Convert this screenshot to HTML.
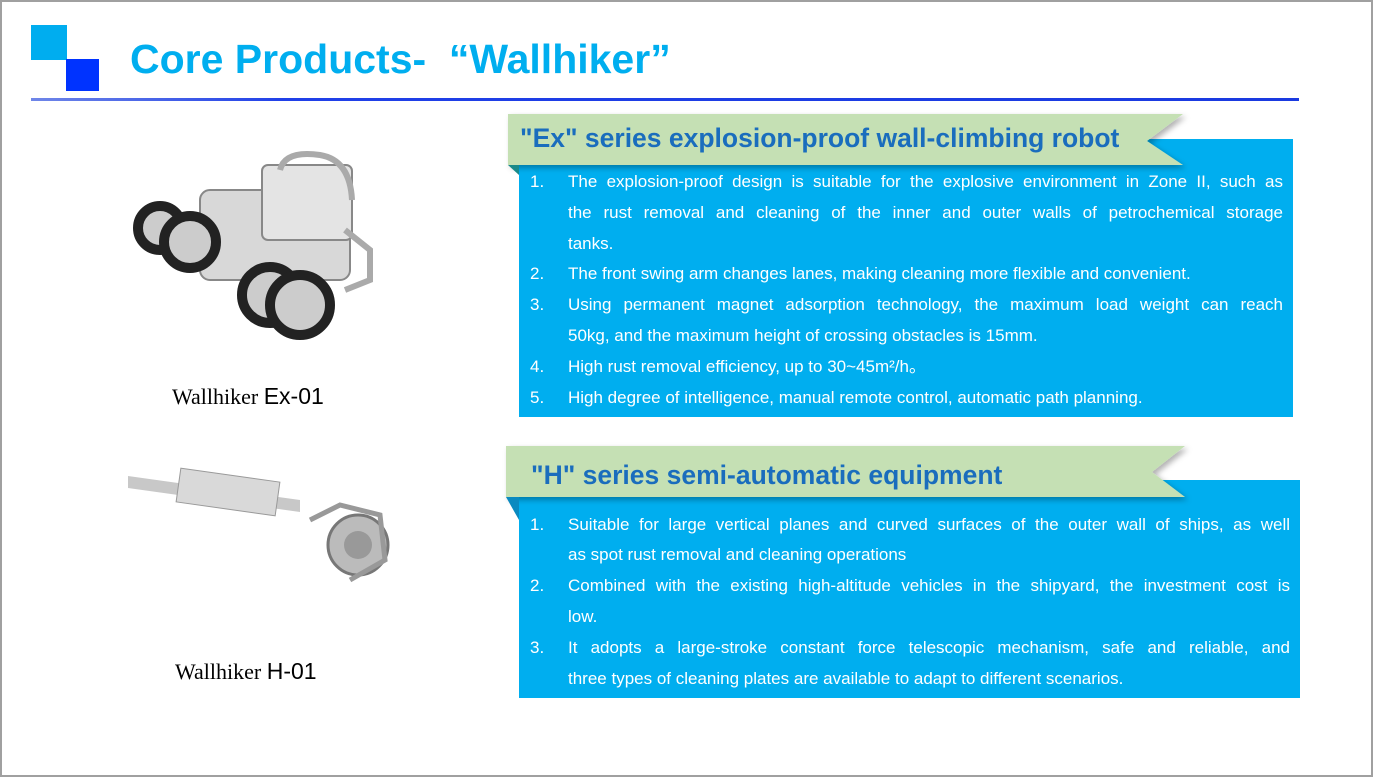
<!DOCTYPE html>
<html><head><meta charset="utf-8"><style>
body{margin:0;width:1373px;height:777px;background:#fff;position:relative;overflow:hidden;font-family:"Liberation Sans",sans-serif}
.frame{position:absolute;left:0;top:0;width:1369px;height:773px;border:2px solid #a0a0a0}
.abs{position:absolute}
.ln{position:absolute;color:#fff;font-size:17px;line-height:20px;height:20px;white-space:nowrap}
.j{text-align:justify;text-align-last:justify;white-space:normal}
.cap{position:absolute;font-family:"Liberation Serif",serif;font-size:22px;color:#000}
.cap span{font-family:"Liberation Sans",sans-serif;font-size:23px}
</style></head><body>
<div class="frame"></div>
<div class="abs" style="left:31px;top:25px;width:36px;height:35px;background:#00adef"></div>
<div class="abs" style="left:66px;top:59px;width:33px;height:32px;background:#0033ff"></div>
<div class="abs" style="left:130px;top:36px;font-size:41px;font-weight:bold;color:#00aeef">Core Products-&nbsp; “Wallhiker”</div>
<div class="abs" style="left:31px;top:98px;width:1268px;height:3px;background:linear-gradient(90deg,#6f86e8,#2040e8 20%,#1a3ae0)"></div>

<svg class="abs" style="left:0;top:0" width="1373" height="777">
<defs><filter id="s" x="-5%" y="-20%" width="110%" height="150%"><feDropShadow dx="3" dy="3" stdDeviation="3" flood-opacity="0.3"/></filter></defs>
<rect x="519" y="139" width="774" height="278" fill="#00aeef"/>
<polygon points="508,114 1183,114 1147,141 1183,165 508,165" fill="#c5e0b4" filter="url(#s)"/>
<polygon points="508,165 519,165 519,175" fill="#1a8a8a"/>
<rect x="519" y="480" width="781" height="218" fill="#00aeef"/>
<polygon points="506,446 1185,446 1152,472 1185,497 506,497" fill="#c5e0b4" filter="url(#s)"/>
<polygon points="506,497 519,497 519,520" fill="#0a8ac0"/>
<g fill="#cfcfcf" stroke="#888" stroke-width="2">
<rect x="200" y="190" width="150" height="90" rx="10" fill="#d8d8d8"/>
<rect x="262" y="165" width="90" height="75" rx="6" fill="#e4e4e4"/>
<path d="M280 170 Q285 150 320 155 Q350 160 352 200" fill="none" stroke="#aaa" stroke-width="6"/>
<path d="M345 230 L370 250 L370 280 L345 290" fill="none" stroke="#aaa" stroke-width="6"/>
</g>
<g stroke="#222" stroke-width="10" fill="#ccc">
<circle cx="160" cy="228" r="22"/><circle cx="190" cy="242" r="26"/>
<circle cx="270" cy="295" r="28"/><circle cx="300" cy="305" r="30"/>
</g>
<polygon points="128,476 300,500 300,512 128,488" fill="#c8c8c8"/>
<rect x="178" y="475" width="100" height="34" fill="#d9d9d9" stroke="#999" transform="rotate(8 228 492)"/>
<circle cx="358" cy="545" r="30" fill="#bbb" stroke="#777" stroke-width="3"/>
<circle cx="358" cy="545" r="14" fill="#999"/>
<path d="M310 520 L340 505 L380 515 L385 560 L350 580" fill="none" stroke="#999" stroke-width="5"/>
</svg>

<div class="cap" style="left:172px;top:383px">Wallhiker <span>Ex-01</span></div>
<div class="cap" style="left:175px;top:658px">Wallhiker <span>H-01</span></div>

<div class="abs" style="left:520px;top:123px;font-size:26.5px;font-weight:bold;color:#1a6dbd">"Ex" series explosion-proof wall-climbing robot</div>
<div class="abs" style="left:531px;top:460px;font-size:26.5px;font-weight:bold;color:#1a6dbd">"H" series semi-automatic equipment</div>

<div class="ln" style="left:530px;top:172px">1.</div>
<div class="ln j" style="left:568px;top:172px;width:715px">The explosion-proof design is suitable for the explosive environment in Zone II, such as</div>
<div class="ln j" style="left:568px;top:203px;width:715px">the rust removal and cleaning of the inner and outer walls of petrochemical storage</div>
<div class="ln" style="left:568px;top:234px">tanks.</div>
<div class="ln" style="left:530px;top:264px">2.</div>
<div class="ln" style="left:568px;top:264px">The front swing arm changes lanes, making cleaning more flexible and convenient.</div>
<div class="ln" style="left:530px;top:295px">3.</div>
<div class="ln j" style="left:568px;top:295px;width:715px">Using permanent magnet adsorption technology, the maximum load weight can reach</div>
<div class="ln" style="left:568px;top:326px">50kg, and the maximum height of crossing obstacles is 15mm.</div>
<div class="ln" style="left:530px;top:357px">4.</div>
<div class="ln" style="left:568px;top:357px">High rust removal efficiency, up to 30~45m²/h。</div>
<div class="ln" style="left:530px;top:388px">5.</div>
<div class="ln" style="left:568px;top:388px">High degree of intelligence, manual remote control, automatic path planning.</div>

<div class="ln" style="left:530px;top:515px">1.</div>
<div class="ln j" style="left:568px;top:515px;width:722px">Suitable for large vertical planes and curved surfaces of the outer wall of ships, as well</div>
<div class="ln" style="left:568px;top:545px">as spot rust removal and cleaning operations</div>
<div class="ln" style="left:530px;top:576px">2.</div>
<div class="ln j" style="left:568px;top:576px;width:722px">Combined with the existing high-altitude vehicles in the shipyard, the investment cost is</div>
<div class="ln" style="left:568px;top:607px">low.</div>
<div class="ln" style="left:530px;top:638px">3.</div>
<div class="ln j" style="left:568px;top:638px;width:722px">It adopts a large-stroke constant force telescopic mechanism, safe and reliable, and</div>
<div class="ln" style="left:568px;top:669px">three types of cleaning plates are available to adapt to different scenarios.</div>
</body></html>
